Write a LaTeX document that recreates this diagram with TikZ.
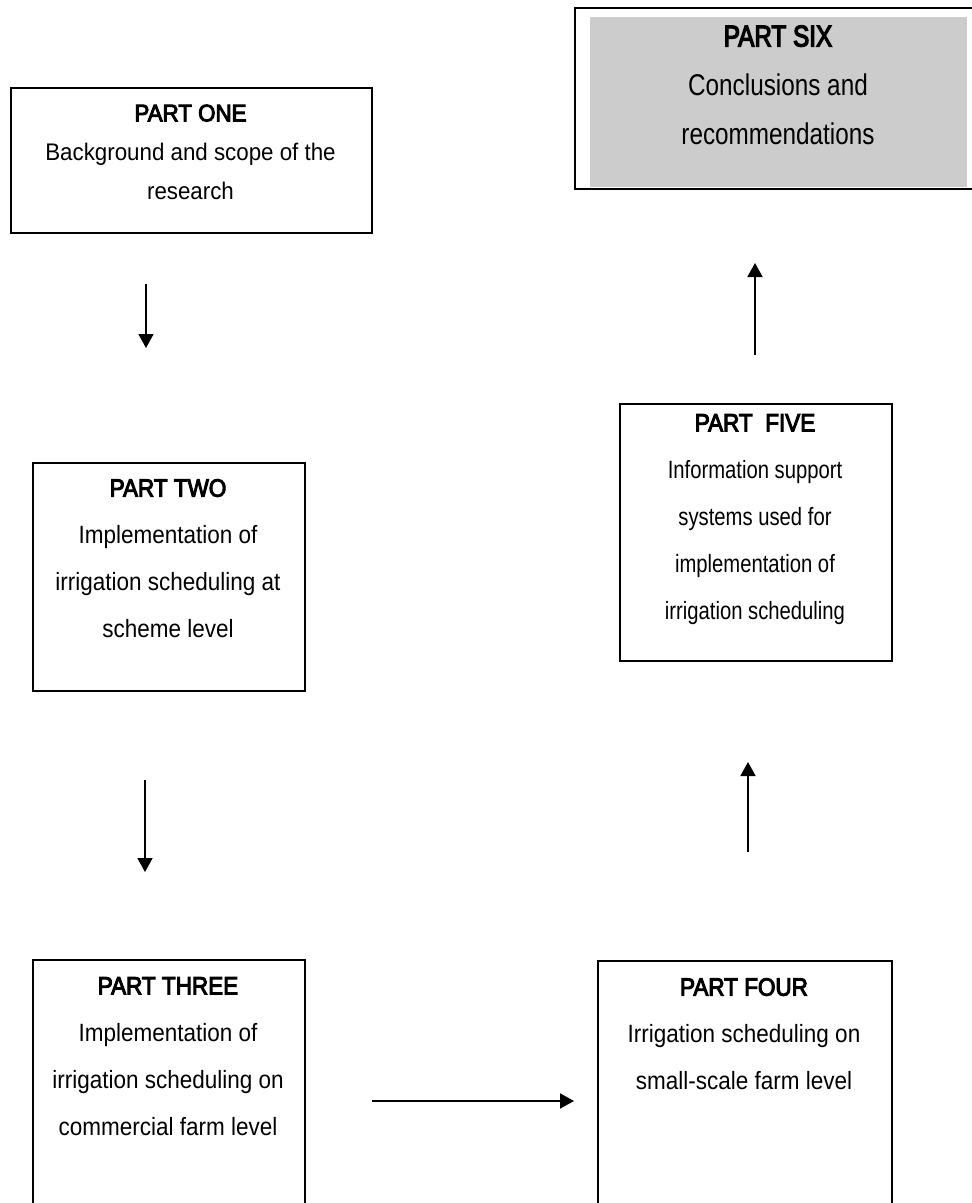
\documentclass[tikz,border=0pt]{standalone}
\usepackage{fontspec}
\setmainfont{Liberation Sans}[FakeStretch=0.9]
\newfontfamily\headfont{Liberation Sans}[FakeStretch=0.9,FakeBold=4]
\newfontfamily\onefont{Liberation Sans}[FakeStretch=0.93]
\newfontfamily\oneheadfont{Liberation Sans}[FakeStretch=0.93,FakeBold=4]
\newfontfamily\narrowfont{Liberation Sans}[FakeStretch=0.81]
\newfontfamily\narrowheadfont{Liberation Sans}[FakeStretch=0.81,FakeBold=4]
\usetikzlibrary{arrows.meta}
\begin{document}
\begin{tikzpicture}[x=1pt,y=-1pt,
  partbox/.style={draw,line width=1.8pt,inner sep=0pt,anchor=north west},
  parttext/.style={align=center,inner sep=0pt,anchor=north},
  flow/.style={line width=1.8pt,-{Triangle[length=14pt,width=15pt]}}]
\useasboundingbox (0,0) rectangle (972,1203);
\fill[white] (0,0) rectangle (972,1203);

% PART SIX
\node[fill=black!20,inner sep=0pt,anchor=north west,minimum width=377pt,minimum height=170pt] (p6fill) at (590,17) {};
\node[partbox,minimum width=401pt,minimum height=181pt] (p6) at (574,7) {};
\node[parttext,font=\narrowfont\fontsize{30}{49}\selectfont] (p6t) at (778,25.3)
  {{\narrowheadfont PART SIX}\\Conclusions and\\recommendations};

% PART ONE
\node[partbox,minimum width=361pt,minimum height=145pt] (p1) at (10,87) {};
\node[parttext,font=\onefont\fontsize{24}{39}\selectfont] (p1t) at (190.5,104.4)
  {{\oneheadfont PART ONE}\\Background and scope of the\\research};

% PART TWO
\node[partbox,minimum width=272pt,minimum height=228pt] (p2) at (32,462) {};
\node[parttext,font=\fontsize{25}{47}\selectfont] (p2t) at (168,479)
  {{\headfont PART TWO}\\Implementation of\\irrigation scheduling at\\scheme level};

% PART THREE
\node[partbox,minimum width=272pt,minimum height=300pt] (p3) at (32,959) {};
\node[parttext,font=\fontsize{25}{47}\selectfont] (p3t) at (168,977)
  {{\headfont PART THREE}\\Implementation of\\irrigation scheduling on\\commercial farm level};

% PART FOUR
\node[partbox,minimum width=294pt,minimum height=300pt] (p4) at (597,960) {};
\node[parttext,font=\fontsize{25}{47}\selectfont] (p4t) at (744,978)
  {{\headfont PART FOUR}\\Irrigation scheduling on\\small-scale farm level};

% PART FIVE
\node[partbox,minimum width=272pt,minimum height=257pt] (p5) at (619,403) {};
\node[parttext,font=\narrowfont\fontsize{25}{47}\selectfont] (p5t) at (755,414)
  {{\headfont PART~~FIVE}\\Information support\\systems used for\\implementation of\\irrigation scheduling};

% arrows
\coordinate (a1s) at (146,284); \coordinate (a1e) at (146,348);
\coordinate (a2s) at (145,780); \coordinate (a2e) at (145,872);
\coordinate (a3s) at (372,1101); \coordinate (a3e) at (574,1101);
\coordinate (a4s) at (748,852); \coordinate (a4e) at (748,762);
\coordinate (a5s) at (755,355); \coordinate (a5e) at (755,263);
\draw[flow] (a1s) -- (a1e);
\draw[flow] (a2s) -- (a2e);
\draw[flow] (a3s) -- (a3e);
\draw[flow] (a4s) -- (a4e);
\draw[flow] (a5s) -- (a5e);
\end{tikzpicture}
\end{document}
